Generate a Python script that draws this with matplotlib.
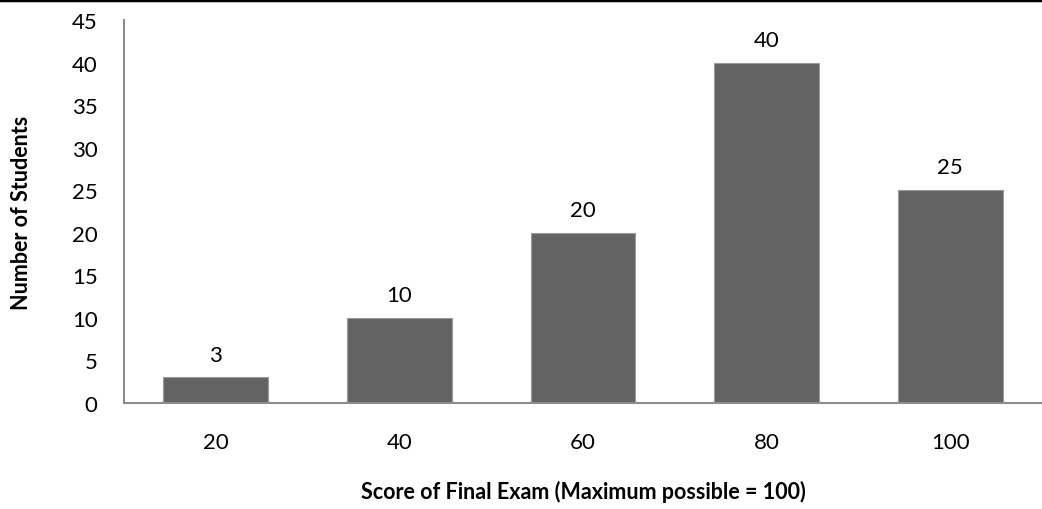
import matplotlib.pyplot as plt
from matplotlib.lines import Line2D

plt.rcParams["font.family"] = ["Lato", "DejaVu Sans"]

scores = ["20", "40", "60", "80", "100"]
students = [3, 10, 20, 40, 25]
yticks = [0, 5, 10, 15, 20, 25, 30, 35, 40, 45]

fig = plt.figure(figsize=(10.42, 5.10), dpi=100)
ax = fig.add_axes([124 / 1042, 1 - 404 / 510, (1042 - 124) / 1042, (404 - 21) / 510])

x = range(len(scores))
bars = ax.bar(x, students, width=0.57, color="#636363", edgecolor="#9a9a9a", linewidth=0.8)
for b, v in zip(bars, students):
    ax.text(b.get_x() + b.get_width() / 2, v + 1.5, str(v), ha="center", va="bottom", fontsize=16)

ax.set_xlim(-0.5, len(scores) - 0.5)
ax.set_ylim(0, 45)
ax.set_xticks(list(x))
ax.set_xticklabels(scores, fontsize=16)
ax.set_yticks(yticks)
ax.set_yticklabels([str(t) for t in yticks], fontsize=16)
ax.tick_params(length=0)
ax.tick_params(axis="x", pad=21)
ax.tick_params(axis="y", pad=19)

for s in ["top", "right"]:
    ax.spines[s].set_visible(False)
for s in ["left", "bottom"]:
    ax.spines[s].set_color("#8c8c8c")
    ax.spines[s].set_linewidth(1.5)

ax.set_xlabel("Score of Final Exam (Maximum possible = 100)", fontsize=15.5, fontweight="bold", labelpad=20)
ax.set_ylabel("Number of Students", fontsize=15.5, fontweight="bold", labelpad=29)

fig.add_artist(Line2D([0, 1], [0.998, 0.998], transform=fig.transFigure, color="black", linewidth=2.5))

fig.savefig("out.png", dpi=100)
